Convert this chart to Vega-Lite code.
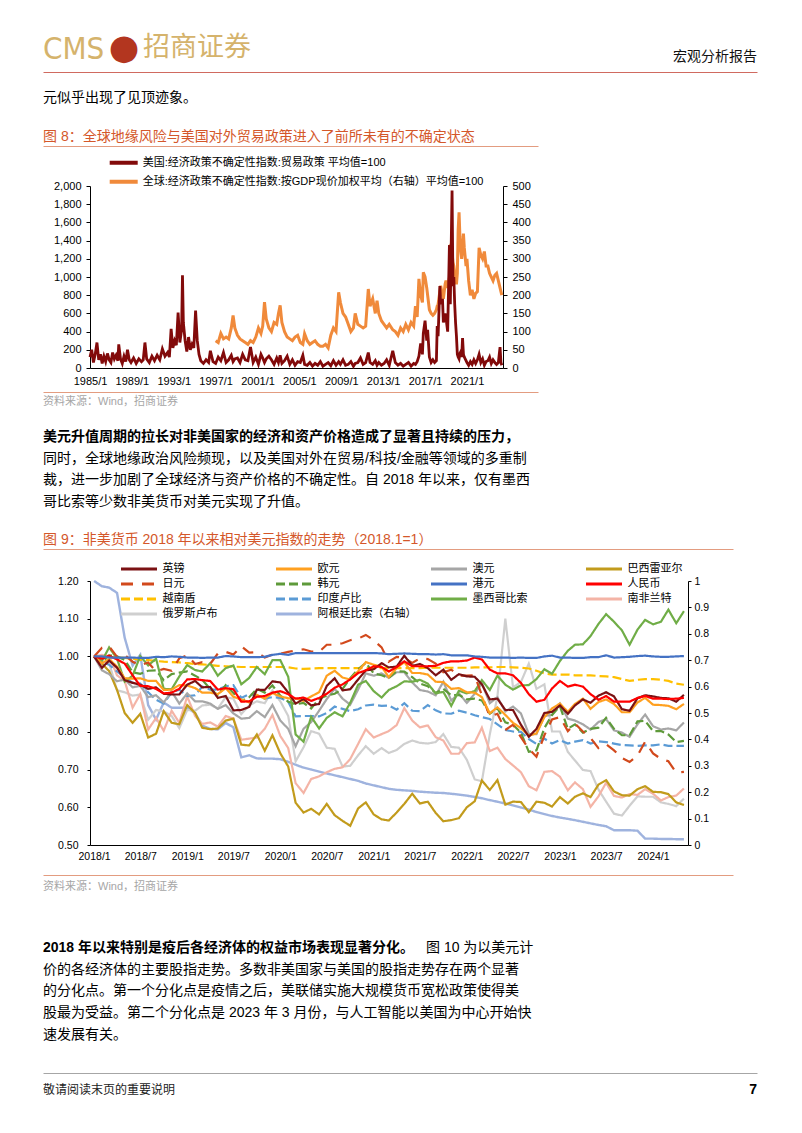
{
  "$schema": "https://vega.github.io/schema/vega-lite/v6.json",
  "background": "white",
  "padding": {"left": 43, "top": 0, "right": 0, "bottom": 0},
  "spacing": 0,
  "config": {
    "view": {"stroke": null},
    "font": "Liberation Sans, Noto Sans CJK SC",
    "text": {"font": "Liberation Sans, Noto Sans CJK SC"},
    "axis": {"labelFont": "Liberation Sans", "labelFontSize": 11, "labelColor": "#000000", "domainColor": "#000000", "tickColor": "#000000", "grid": false, "labelFlush": false, "labelOverlap": false},
    "legend": {"labelFont": "Liberation Sans, Noto Sans CJK SC", "labelColor": "#000000"}
  },
  "resolve": {"scale": {"color": "independent", "strokeDash": "independent"}, "legend": {"color": "independent", "strokeDash": "independent"}},
  "vconcat": [
    {
      "width": 667, "height": 72,
      "data": {"values": [{"logo": "CMS", "emblem": "●", "brand": "招商证券", "series": "宏观分析报告"}]},
      "encoding": {"x": {"datum": 0, "type": "quantitative", "scale": {"domain": [0, 1], "range": [-47, 667]}, "axis": {"orient": "bottom", "domain": true, "domainColor": "#d06a60", "domainWidth": 1, "ticks": false, "labels": false, "grid": false, "title": null}}},
      "layer": [
        {"mark": {"type": "text", "align": "left", "baseline": "alphabetic", "font": "Liberation Sans Narrow, DejaVu Sans Condensed, Liberation Sans", "fontSize": 31, "color": "#d5b36c", "dy": 23}, "encoding": {"text": {"field": "logo"}}},
        {"mark": {"type": "text", "align": "center", "baseline": "middle", "font": "DejaVu Sans", "fontSize": 35, "color": "#b3361f", "dx": 81, "dy": 12}, "encoding": {"text": {"field": "emblem"}}},
        {"mark": {"type": "text", "align": "left", "baseline": "middle", "font": "Noto Sans CJK SC", "fontSize": 27, "color": "#d5b36c", "dx": 100, "dy": 12}, "encoding": {"text": {"field": "brand"}}},
        {"mark": {"type": "text", "align": "right", "baseline": "middle", "fontSize": 14, "color": "#111111", "dy": 21}, "encoding": {"x": {"datum": 1, "type": "quantitative"}, "text": {"field": "series"}}}
      ]
    },
    {
      "width": 667, "height": 51,
      "data": {"values": [{"line": 0, "text": "元似乎出现了见顶迹象。"}]},
      "mark": {"type": "text", "align": "left", "baseline": "middle", "fontSize": 14, "color": "#000000"},
      "encoding": {
        "x": {"datum": 0, "type": "quantitative", "scale": {"domain": [0, 1], "range": [-47, 667]}, "axis": null},
        "y": {"field": "line", "type": "ordinal", "scale": {"type": "point", "padding": 0.5}, "axis": null},
        "text": {"field": "text"}
      }
    },
    {
      "width": 448, "height": 23,
      "data": {"values": [{"title": "图 8：全球地缘风险与美国对外贸易政策进入了前所未有的不确定状态"}]},
      "mark": {"type": "text", "align": "left", "baseline": "middle", "fontSize": 14, "color": "#d4572a", "dy": 2},
      "encoding": {
        "x": {"datum": 0, "type": "quantitative", "scale": {"domain": [0, 1], "range": [-47, 448]}, "axis": {"orient": "bottom", "domain": true, "domainColor": "#e39c80", "ticks": false, "labels": false, "grid": false, "title": null}},
        "text": {"field": "title"}
      }
    },
    {
      "width": 413, "height": 182,
      "data": {"values": [
        {"d":"1985-01","us":120},{"d":"1985-03","us":200},{"d":"1985-05","us":60},{"d":"1985-07","us":150},{"d":"1985-09","us":280},{"d":"1985-11","us":90},
        {"d":"1986-01","us":150},{"d":"1986-03","us":50},{"d":"1986-05","us":130},{"d":"1986-07","us":70},{"d":"1986-09","us":160},{"d":"1986-11","us":90},
        {"d":"1987-01","us":60},{"d":"1987-03","us":170},{"d":"1987-05","us":100},{"d":"1987-07","us":140},{"d":"1987-09","us":80},{"d":"1987-10","us":260},{"d":"1987-12","us":100},
        {"d":"1988-02","us":50},{"d":"1988-04","us":130},{"d":"1988-06","us":70},{"d":"1988-08","us":200},{"d":"1988-10","us":90},{"d":"1988-12","us":60},
        {"d":"1989-03","us":110},{"d":"1989-06","us":50},{"d":"1989-09","us":100},{"d":"1989-12","us":70},
        {"d":"1990-02","us":90},{"d":"1990-04","us":280},{"d":"1990-06","us":100},{"d":"1990-09","us":60},{"d":"1990-12","us":130},
        {"d":"1991-03","us":80},{"d":"1991-06","us":140},{"d":"1991-09","us":90},{"d":"1991-12","us":210},
        {"d":"1992-03","us":130},{"d":"1992-06","us":170},{"d":"1992-08","us":120},{"d":"1992-10","us":430},{"d":"1992-12","us":220},
        {"d":"1993-02","us":300},{"d":"1993-04","us":250},{"d":"1993-06","us":610},{"d":"1993-08","us":280},{"d":"1993-10","us":420},{"d":"1993-11","us":1020},{"d":"1993-12","us":500},
        {"d":"1994-02","us":300},{"d":"1994-04","us":180},{"d":"1994-06","us":340},{"d":"1994-08","us":200},{"d":"1994-10","us":260},{"d":"1994-12","us":220},
        {"d":"1995-02","us":630},{"d":"1995-04","us":300},{"d":"1995-06","us":150},{"d":"1995-08","us":80},{"d":"1995-11","us":50},
        {"d":"1996-02","us":90},{"d":"1996-05","us":60},{"d":"1996-07","us":190},{"d":"1996-10","us":70},
        {"d":"1997-01","us":50,"gl":75},{"d":"1997-04","us":120,"gl":70},{"d":"1997-07","us":80,"gl":95},{"d":"1997-10","us":170,"gl":80},
        {"d":"1998-01","us":60,"gl":85},{"d":"1998-04","us":90,"gl":80},{"d":"1998-07","us":140,"gl":110},{"d":"1998-09","us":70,"gl":144},{"d":"1998-11","us":100,"gl":110},
        {"d":"1999-02","us":110,"gl":90},{"d":"1999-05","us":60,"gl":80},{"d":"1999-08","us":150,"gl":75},{"d":"1999-11","us":90,"gl":70},
        {"d":"2000-02","us":80,"gl":65},{"d":"2000-05","us":230,"gl":75},{"d":"2000-08","us":60,"gl":70},{"d":"2000-11","us":120,"gl":85},
        {"d":"2001-02","us":40,"gl":110},{"d":"2001-05","us":150,"gl":95},{"d":"2001-07","us":110,"gl":115},{"d":"2001-09","us":60,"gl":181},{"d":"2001-11","us":100,"gl":135},
        {"d":"2002-02","us":130,"gl":110},{"d":"2002-05","us":90,"gl":100},{"d":"2002-08","us":40,"gl":125},{"d":"2002-11","us":110,"gl":120},
        {"d":"2003-01","us":60,"gl":150},{"d":"2003-03","us":140,"gl":172},{"d":"2003-05","us":50,"gl":125},{"d":"2003-08","us":80,"gl":100},{"d":"2003-11","us":130,"gl":85},
        {"d":"2004-02","us":40,"gl":80},{"d":"2004-05","us":90,"gl":75},{"d":"2004-08","us":30,"gl":85},{"d":"2004-11","us":70,"gl":90},
        {"d":"2005-02","us":60,"gl":70},{"d":"2005-05","us":140,"gl":65},{"d":"2005-07","us":40,"gl":94},{"d":"2005-10","us":30,"gl":75},
        {"d":"2006-01","us":60,"gl":65},{"d":"2006-04","us":20,"gl":70},{"d":"2006-07","us":50,"gl":75},{"d":"2006-10","us":30,"gl":65},
        {"d":"2007-01","us":70,"gl":60},{"d":"2007-04","us":20,"gl":60},{"d":"2007-07","us":40,"gl":65},{"d":"2007-10","us":60,"gl":55},
        {"d":"2008-01","us":25,"gl":90},{"d":"2008-04","us":80,"gl":110},{"d":"2008-07","us":30,"gl":100},{"d":"2008-10","us":70,"gl":208},{"d":"2008-12","us":40,"gl":180},
        {"d":"2009-03","us":90,"gl":150},{"d":"2009-06","us":30,"gl":140},{"d":"2009-09","us":40,"gl":120},{"d":"2009-12","us":70,"gl":100},
        {"d":"2010-03","us":20,"gl":110},{"d":"2010-05","us":50,"gl":150},{"d":"2010-08","us":60,"gl":120},{"d":"2010-11","us":110,"gl":115},
        {"d":"2011-02","us":40,"gl":110},{"d":"2011-05","us":60,"gl":115},{"d":"2011-08","us":170,"gl":217},{"d":"2011-10","us":60,"gl":170},
        {"d":"2012-01","us":40,"gl":190},{"d":"2012-04","us":80,"gl":150},{"d":"2012-06","us":30,"gl":185},{"d":"2012-08","us":60,"gl":150},{"d":"2012-11","us":30,"gl":130},
        {"d":"2013-02","us":50,"gl":120},{"d":"2013-05","us":90,"gl":110},{"d":"2013-08","us":30,"gl":120},{"d":"2013-12","us":190,"gl":105},
        {"d":"2014-03","us":60,"gl":100},{"d":"2014-06","us":30,"gl":90},{"d":"2014-09","us":50,"gl":110},{"d":"2014-12","us":20,"gl":100},
        {"d":"2015-03","us":40,"gl":120},{"d":"2015-06","us":60,"gl":105},{"d":"2015-09","us":20,"gl":125},{"d":"2015-12","us":50,"gl":115},
        {"d":"2016-02","us":40,"gl":170},{"d":"2016-04","us":70,"gl":140},{"d":"2016-06","us":130,"gl":245},{"d":"2016-08","us":270,"gl":200},{"d":"2016-10","us":150,"gl":180},{"d":"2016-11","us":380,"gl":263},
        {"d":"2017-01","us":520,"gl":250},{"d":"2017-03","us":300,"gl":220},{"d":"2017-04","us":420,"gl":200},{"d":"2017-06","us":120,"gl":160},{"d":"2017-08","us":60,"gl":150},{"d":"2017-10","us":90,"gl":145},{"d":"2017-12","us":60,"gl":150},
        {"d":"2018-02","us":80,"gl":160},{"d":"2018-03","us":460,"gl":170},{"d":"2018-04","us":350,"gl":175},{"d":"2018-06","us":900,"gl":210},{"d":"2018-07","us":700,"gl":226},{"d":"2018-09","us":760,"gl":200},{"d":"2018-10","us":500,"gl":190},{"d":"2018-12","us":600,"gl":230},
        {"d":"2019-01","us":550,"gl":240},{"d":"2019-03","us":400,"gl":220},{"d":"2019-05","us":1350,"gl":250},{"d":"2019-06","us":700,"gl":327},{"d":"2019-08","us":1950,"gl":318},{"d":"2019-09","us":900,"gl":290},{"d":"2019-10","us":1000,"gl":280},{"d":"2019-11","us":700,"gl":260},{"d":"2019-12","us":500,"gl":250},
        {"d":"2020-01","us":350,"gl":230},{"d":"2020-02","us":150,"gl":260},{"d":"2020-03","us":120,"gl":380},{"d":"2020-04","us":100,"gl":428},{"d":"2020-05","us":160,"gl":360},{"d":"2020-06","us":180,"gl":320},{"d":"2020-07","us":120,"gl":300},{"d":"2020-08","us":330,"gl":330},{"d":"2020-09","us":150,"gl":369},{"d":"2020-10","us":120,"gl":330},{"d":"2020-12","us":80,"gl":280},
        {"d":"2021-01","us":60,"gl":300},{"d":"2021-03","us":30,"gl":240},{"d":"2021-05","us":70,"gl":200},{"d":"2021-07","us":40,"gl":215},{"d":"2021-09","us":90,"gl":190},{"d":"2021-11","us":50,"gl":205},
        {"d":"2022-01","us":90,"gl":210},{"d":"2022-03","us":150,"gl":330},{"d":"2022-05","us":60,"gl":310},{"d":"2022-07","us":100,"gl":300},{"d":"2022-09","us":30,"gl":320},{"d":"2022-11","us":70,"gl":280},
        {"d":"2023-01","us":80,"gl":280},{"d":"2023-03","us":120,"gl":260},{"d":"2023-05","us":50,"gl":250},{"d":"2023-07","us":90,"gl":240},{"d":"2023-09","us":60,"gl":255},{"d":"2023-11","us":40,"gl":260},
        {"d":"2024-01","us":60,"gl":240},{"d":"2024-03","us":230,"gl":220},{"d":"2024-04","us":60,"gl":210},{"d":"2024-05","us":30,"gl":200}
      ]},
      "encoding": {
        "x": {"field": "d", "type": "temporal",
          "scale": {"type": "utc", "domain": [{"year": 1985, "month": 1, "date": 1, "utc": true}, {"year": 2024, "month": 6, "date": 12, "utc": true}]},
          "axis": {"title": null, "format": "%Y/%-m", "ticks": false, "labelPadding": 7, "minExtent": 23.5,
            "values": [{"year":1985,"month":1,"date":1,"utc":true},{"year":1989,"month":1,"date":1,"utc":true},{"year":1993,"month":1,"date":1,"utc":true},{"year":1997,"month":1,"date":1,"utc":true},{"year":2001,"month":1,"date":1,"utc":true},{"year":2005,"month":1,"date":1,"utc":true},{"year":2009,"month":1,"date":1,"utc":true},{"year":2013,"month":1,"date":1,"utc":true},{"year":2017,"month":1,"date":1,"utc":true},{"year":2021,"month":1,"date":1,"utc":true}]}}
      },
      "layer": [
        {"mark": {"type": "line", "strokeWidth": 3},
         "encoding": {
           "y": {"field": "gl", "type": "quantitative", "scale": {"domain": [0, 500], "nice": false}, "axis": {"title": null, "orient": "right", "values": [0,50,100,150,200,250,300,350,400,450,500], "tickSize": 4, "labelPadding": 5}},
           "color": {"datum": "全球:经济政策不确定性指数:按GDP现价加权平均（右轴）平均值=100", "type": "nominal"}
         }},
        {"mark": {"type": "line", "strokeWidth": 2.8},
         "encoding": {
           "y": {"field": "us", "type": "quantitative", "scale": {"domain": [0, 2000], "nice": false}, "axis": {"title": null, "orient": "left", "values": [0,200,400,600,800,1000,1200,1400,1600,1800,2000], "format": ",.0f", "tickSize": 4, "labelPadding": 5, "minExtent": 47}},
           "color": {"datum": "美国:经济政策不确定性指数:贸易政策 平均值=100", "type": "nominal",
             "scale": {"domain": ["美国:经济政策不确定性指数:贸易政策 平均值=100", "全球:经济政策不确定性指数:按GDP现价加权平均（右轴）平均值=100"], "range": ["#820a0a", "#f08a3b"]},
             "legend": {"title": null, "orient": "none", "legendX": 7, "legendY": -39.5, "padding": 10.7, "direction": "vertical", "symbolType": "stroke", "symbolSize": 784, "symbolStrokeWidth": 4, "clipHeight": 11, "rowPadding": 7, "labelFontSize": 11, "labelOffset": 3, "labelLimit": 500}}
         }}
      ],
      "resolve": {"scale": {"y": "independent"}}
    },
    {
      "width": 448, "height": 30,
      "data": {"values": [{"src": "资料来源：Wind，招商证券"}]},
      "mark": {"type": "text", "align": "left", "baseline": "middle", "fontSize": 11, "color": "#a6a6a6", "dy": -5},
      "encoding": {
        "x": {"datum": 0, "type": "quantitative", "scale": {"domain": [0, 1], "range": [-47, 448]}, "axis": {"orient": "top", "domain": true, "domainColor": "#e39c80", "ticks": false, "labels": false, "grid": false, "title": null}},
        "text": {"field": "src"}
      }
    },
    {
      "width": 667, "height": 109,
      "data": {"values": [
        {"line": 0, "part": "lead", "text": "美元升值周期的拉长对非美国家的经济和资产价格造成了显著且持续的压力，"},
        {"line": 1, "part": "body", "text": "同时，全球地缘政治风险频现，以及美国对外在贸易/科技/金融等领域的多重制"},
        {"line": 2, "part": "body", "text": "裁，进一步加剧了全球经济与资产价格的不确定性。自 2018 年以来，仅有墨西"},
        {"line": 3, "part": "body", "text": "哥比索等少数非美货币对美元实现了升值。"}
      ]},
      "encoding": {
        "x": {"datum": 0, "type": "quantitative", "scale": {"domain": [0, 1], "range": [-47, 667]}, "axis": null},
        "y": {"field": "line", "type": "quantitative", "scale": {"domain": [-0.691, 4.332], "reverse": true, "nice": false, "zero": false}, "axis": null},
        "text": {"field": "text"}
      },
      "layer": [
        {"transform": [{"filter": "datum.part === 'lead'"}], "mark": {"type": "text", "align": "left", "baseline": "middle", "fontSize": 14, "fontWeight": "bold", "color": "#000000"}},
        {"transform": [{"filter": "datum.part === 'body'"}], "mark": {"type": "text", "align": "left", "baseline": "middle", "fontSize": 14, "color": "#000000"}}
      ]
    },
    {
      "width": 643, "height": 18,
      "data": {"values": [{"title": "图 9：非美货币 2018 年以来相对美元指数的走势（2018.1=1）"}]},
      "mark": {"type": "text", "align": "left", "baseline": "middle", "fontSize": 14, "color": "#d4572a", "dy": 0},
      "encoding": {
        "x": {"datum": 0, "type": "quantitative", "scale": {"domain": [0, 1], "range": [-47, 643]}, "axis": {"orient": "bottom", "domain": true, "domainColor": "#e39c80", "ticks": false, "labels": false, "grid": false, "title": null}},
        "text": {"field": "title"}
      }
    },
    {
      "width": 598, "height": 264,
      "data": {"values": [
        {"d":"2018-01","gbp":1,"eur":1,"aud":1,"brl":1,"jpy":1,"krw":1,"hkd":1,"cny":1,"vnd":1,"inr":1,"mxn":1,"zar":1,"rub":1,"ars":1},
        {"d":"2018-02","gbp":0.970,"eur":0.982,"aud":0.963,"brl":0.981,"jpy":1.023,"krw":0.986,"hkd":1.000,"cny":0.994,"vnd":0.999,"inr":0.985,"mxn":0.988,"zar":1.004,"rub":1.002,"ars":0.980},
        {"d":"2018-03","gbp":0.989,"eur":0.993,"aud":0.953,"brl":0.961,"jpy":1.027,"krw":1.003,"hkd":0.997,"cny":1.002,"vnd":0.998,"inr":0.978,"mxn":1.024,"zar":1.001,"rub":0.983,"ars":0.975},
        {"d":"2018-04","gbp":0.970,"eur":0.973,"aud":0.934,"brl":0.911,"jpy":0.999,"krw":1.000,"hkd":0.997,"cny":0.992,"vnd":0.997,"inr":0.960,"mxn":0.994,"zar":0.950,"rub":0.910,"ars":0.955},
        {"d":"2018-05","gbp":0.937,"eur":0.942,"aud":0.939,"brl":0.850,"jpy":1.004,"krw":0.991,"hkd":0.997,"cny":0.981,"vnd":0.996,"inr":0.945,"mxn":0.933,"zar":0.935,"rub":0.905,"ars":0.785},
        {"d":"2018-06","gbp":0.930,"eur":0.941,"aud":0.918,"brl":0.824,"jpy":0.986,"krw":0.958,"hkd":0.997,"cny":0.950,"vnd":0.994,"inr":0.930,"mxn":0.949,"zar":0.864,"rub":0.896,"ars":0.680},
        {"d":"2018-07","gbp":0.925,"eur":0.942,"aud":0.922,"brl":0.848,"jpy":0.976,"krw":0.954,"hkd":0.996,"cny":0.922,"vnd":0.991,"inr":0.928,"mxn":1.001,"zar":0.900,"rub":0.899,"ars":0.720},
        {"d":"2018-08","gbp":0.914,"eur":0.935,"aud":0.892,"brl":0.785,"jpy":0.984,"krw":0.962,"hkd":0.996,"cny":0.921,"vnd":0.990,"inr":0.905,"mxn":0.976,"zar":0.806,"rub":0.832,"ars":0.530},
        {"d":"2018-09","gbp":0.918,"eur":0.935,"aud":0.897,"brl":0.795,"jpy":0.960,"krw":0.963,"hkd":0.999,"cny":0.914,"vnd":0.988,"inr":0.885,"mxn":0.994,"zar":0.837,"rub":0.858,"ars":0.475},
        {"d":"2018-10","gbp":0.901,"eur":0.911,"aud":0.878,"brl":0.855,"jpy":0.967,"krw":0.937,"hkd":0.998,"cny":0.902,"vnd":0.986,"inr":0.875,"mxn":0.914,"zar":0.803,"rub":0.854,"ars":0.540},
        {"d":"2018-11","gbp":0.899,"eur":0.912,"aud":0.907,"brl":0.824,"jpy":0.962,"krw":0.953,"hkd":1.000,"cny":0.904,"vnd":0.985,"inr":0.905,"mxn":0.913,"zar":0.856,"rub":0.842,"ars":0.520},
        {"d":"2018-12","gbp":0.899,"eur":0.924,"aud":0.875,"brl":0.820,"jpy":0.995,"krw":0.957,"hkd":0.999,"cny":0.914,"vnd":0.984,"inr":0.912,"mxn":0.947,"zar":0.824,"rub":0.810,"ars":0.520},
        {"d":"2019-01","gbp":0.925,"eur":0.923,"aud":0.902,"brl":0.871,"jpy":1.003,"krw":0.960,"hkd":0.997,"cny":0.939,"vnd":0.982,"inr":0.895,"mxn":0.977,"zar":0.894,"rub":0.858,"ars":0.520},
        {"d":"2019-02","gbp":0.935,"eur":0.916,"aud":0.881,"brl":0.850,"jpy":0.980,"krw":0.949,"hkd":0.997,"cny":0.940,"vnd":0.980,"inr":0.897,"mxn":0.964,"zar":0.842,"rub":0.856,"ars":0.500},
        {"d":"2019-03","gbp":0.918,"eur":0.904,"aud":0.881,"brl":0.811,"jpy":0.985,"krw":0.938,"hkd":0.996,"cny":0.937,"vnd":0.979,"inr":0.920,"mxn":0.960,"zar":0.821,"rub":0.870,"ars":0.452},
        {"d":"2019-04","gbp":0.919,"eur":0.904,"aud":0.875,"brl":0.807,"jpy":0.980,"krw":0.914,"hkd":0.997,"cny":0.935,"vnd":0.977,"inr":0.912,"mxn":0.982,"zar":0.825,"rub":0.872,"ars":0.440},
        {"d":"2019-05","gbp":0.890,"eur":0.900,"aud":0.861,"brl":0.809,"jpy":1.008,"krw":0.897,"hkd":0.997,"cny":0.912,"vnd":0.975,"inr":0.912,"mxn":0.949,"zar":0.814,"rub":0.862,"ars":0.438},
        {"d":"2019-06","gbp":0.895,"eur":0.916,"aud":0.871,"brl":0.830,"jpy":1.012,"krw":0.924,"hkd":1.001,"cny":0.916,"vnd":0.974,"inr":0.921,"mxn":0.969,"zar":0.842,"rub":0.892,"ars":0.462},
        {"d":"2019-07","gbp":0.857,"eur":0.893,"aud":0.849,"brl":0.835,"jpy":1.005,"krw":0.903,"hkd":1.000,"cny":0.913,"vnd":0.973,"inr":0.924,"mxn":0.976,"zar":0.835,"rub":0.888,"ars":0.446},
        {"d":"2019-08","gbp":0.858,"eur":0.886,"aud":0.835,"brl":0.766,"jpy":1.027,"krw":0.882,"hkd":0.998,"cny":0.880,"vnd":0.972,"inr":0.890,"mxn":0.926,"zar":0.779,"rub":0.847,"ars":0.332},
        {"d":"2019-09","gbp":0.866,"eur":0.878,"aud":0.837,"brl":0.764,"jpy":1.010,"krw":0.892,"hkd":0.998,"cny":0.881,"vnd":0.972,"inr":0.900,"mxn":0.943,"zar":0.782,"rub":0.870,"ars":0.340},
        {"d":"2019-10","gbp":0.912,"eur":0.898,"aud":0.855,"brl":0.793,"jpy":1.011,"krw":0.914,"hkd":0.998,"cny":0.893,"vnd":0.972,"inr":0.897,"mxn":0.972,"zar":0.785,"rub":0.881,"ars":0.328},
        {"d":"2019-11","gbp":0.911,"eur":0.888,"aud":0.839,"brl":0.750,"jpy":0.997,"krw":0.904,"hkd":0.999,"cny":0.895,"vnd":0.972,"inr":0.888,"mxn":0.953,"zar":0.808,"rub":0.876,"ars":0.327},
        {"d":"2019-12","gbp":0.934,"eur":0.903,"aud":0.871,"brl":0.791,"jpy":1.005,"krw":0.923,"hkd":1.004,"cny":0.904,"vnd":0.972,"inr":0.892,"mxn":0.990,"zar":0.845,"rub":0.910,"ars":0.327},
        {"d":"2020-01","gbp":0.931,"eur":0.894,"aud":0.830,"brl":0.743,"jpy":1.007,"krw":0.896,"hkd":1.007,"cny":0.908,"vnd":0.972,"inr":0.890,"mxn":0.990,"zar":0.789,"rub":0.881,"ars":0.325},
        {"d":"2020-02","gbp":0.904,"eur":0.889,"aud":0.808,"brl":0.708,"jpy":1.012,"krw":0.880,"hkd":1.004,"cny":0.900,"vnd":0.971,"inr":0.880,"mxn":0.946,"zar":0.757,"rub":0.842,"ars":0.315},
        {"d":"2020-03","gbp":0.875,"eur":0.889,"aud":0.762,"brl":0.612,"jpy":1.016,"krw":0.873,"hkd":1.009,"cny":0.888,"vnd":0.968,"inr":0.841,"mxn":0.793,"zar":0.664,"rub":0.722,"ars":0.304},
        {"d":"2020-04","gbp":0.887,"eur":0.882,"aud":0.808,"brl":0.586,"jpy":1.019,"krw":0.877,"hkd":1.009,"cny":0.891,"vnd":0.967,"inr":0.842,"mxn":0.774,"zar":0.638,"rub":0.759,"ars":0.293},
        {"d":"2020-05","gbp":0.870,"eur":0.894,"aud":0.826,"brl":0.596,"jpy":1.013,"krw":0.862,"hkd":1.009,"cny":0.882,"vnd":0.968,"inr":0.842,"mxn":0.840,"zar":0.675,"rub":0.802,"ars":0.286},
        {"d":"2020-06","gbp":0.874,"eur":0.905,"aud":0.856,"brl":0.581,"jpy":1.012,"krw":0.888,"hkd":1.009,"cny":0.890,"vnd":0.969,"inr":0.841,"mxn":0.809,"zar":0.682,"rub":0.795,"ars":0.278},
        {"d":"2020-07","gbp":0.922,"eur":0.949,"aud":0.887,"brl":0.609,"jpy":1.031,"krw":0.896,"hkd":1.009,"cny":0.901,"vnd":0.969,"inr":0.850,"mxn":0.837,"zar":0.693,"rub":0.758,"ars":0.271},
        {"d":"2020-08","gbp":0.942,"eur":0.962,"aud":0.914,"brl":0.579,"jpy":1.031,"krw":0.901,"hkd":1.009,"cny":0.917,"vnd":0.969,"inr":0.867,"mxn":0.852,"zar":0.702,"rub":0.755,"ars":0.264},
        {"d":"2020-09","gbp":0.910,"eur":0.944,"aud":0.888,"brl":0.564,"jpy":1.035,"krw":0.914,"hkd":1.009,"cny":0.926,"vnd":0.969,"inr":0.861,"mxn":0.841,"zar":0.706,"rub":0.708,"ars":0.257},
        {"d":"2020-10","gbp":0.913,"eur":0.939,"aud":0.872,"brl":0.551,"jpy":1.043,"krw":0.942,"hkd":1.009,"cny":0.939,"vnd":0.969,"inr":0.855,"mxn":0.877,"zar":0.728,"rub":0.710,"ars":0.250},
        {"d":"2020-11","gbp":0.939,"eur":0.961,"aud":0.912,"brl":0.597,"jpy":1.047,"krw":0.966,"hkd":1.009,"cny":0.956,"vnd":0.969,"inr":0.860,"mxn":0.925,"zar":0.768,"rub":0.738,"ars":0.243},
        {"d":"2020-12","gbp":0.963,"eur":0.985,"aud":0.955,"brl":0.613,"jpy":1.057,"krw":0.983,"hkd":1.009,"cny":0.963,"vnd":0.969,"inr":0.870,"mxn":0.935,"zar":0.807,"rub":0.762,"ars":0.233},
        {"d":"2021-01","gbp":0.966,"eur":0.978,"aud":0.949,"brl":0.581,"jpy":1.043,"krw":0.955,"hkd":1.009,"cny":0.974,"vnd":0.969,"inr":0.872,"mxn":0.908,"zar":0.785,"rub":0.742,"ars":0.226},
        {"d":"2021-02","gbp":0.982,"eur":0.973,"aud":0.955,"brl":0.568,"jpy":1.024,"krw":0.950,"hkd":1.008,"cny":0.972,"vnd":0.969,"inr":0.869,"mxn":0.891,"zar":0.794,"rub":0.757,"ars":0.219},
        {"d":"2021-03","gbp":0.971,"eur":0.945,"aud":0.943,"brl":0.565,"jpy":0.986,"krw":0.943,"hkd":1.006,"cny":0.960,"vnd":0.969,"inr":0.870,"mxn":0.911,"zar":0.802,"rub":0.744,"ars":0.213},
        {"d":"2021-04","gbp":0.973,"eur":0.969,"aud":0.958,"brl":0.586,"jpy":0.999,"krw":0.961,"hkd":1.007,"cny":0.972,"vnd":0.969,"inr":0.859,"mxn":0.921,"zar":0.818,"rub":0.752,"ars":0.209},
        {"d":"2021-05","gbp":1.002,"eur":0.985,"aud":0.958,"brl":0.609,"jpy":0.996,"krw":0.960,"hkd":1.008,"cny":0.987,"vnd":0.969,"inr":0.876,"mxn":0.934,"zar":0.863,"rub":0.768,"ars":0.207},
        {"d":"2021-06","gbp":0.975,"eur":0.956,"aud":0.931,"brl":0.636,"jpy":0.983,"krw":0.945,"hkd":1.007,"cny":0.974,"vnd":0.969,"inr":0.856,"mxn":0.933,"zar":0.830,"rub":0.777,"ars":0.205},
        {"d":"2021-07","gbp":0.980,"eur":0.956,"aud":0.911,"brl":0.610,"jpy":0.995,"krw":0.928,"hkd":1.006,"cny":0.974,"vnd":0.969,"inr":0.855,"mxn":0.938,"zar":0.812,"rub":0.771,"ars":0.202},
        {"d":"2021-08","gbp":0.969,"eur":0.952,"aud":0.907,"brl":0.615,"jpy":0.993,"krw":0.921,"hkd":1.006,"cny":0.974,"vnd":0.970,"inr":0.871,"mxn":0.928,"zar":0.817,"rub":0.769,"ars":0.200},
        {"d":"2021-09","gbp":0.950,"eur":0.933,"aud":0.897,"brl":0.585,"jpy":0.981,"krw":0.903,"hkd":1.005,"cny":0.975,"vnd":0.970,"inr":0.857,"mxn":0.902,"zar":0.786,"rub":0.773,"ars":0.198},
        {"d":"2021-10","gbp":0.965,"eur":0.932,"aud":0.933,"brl":0.563,"jpy":0.958,"krw":0.914,"hkd":1.006,"cny":0.983,"vnd":0.970,"inr":0.849,"mxn":0.906,"zar":0.777,"rub":0.794,"ars":0.197},
        {"d":"2021-11","gbp":0.938,"eur":0.914,"aud":0.883,"brl":0.566,"jpy":0.965,"krw":0.897,"hkd":1.003,"cny":0.987,"vnd":0.970,"inr":0.848,"mxn":0.869,"zar":0.742,"rub":0.760,"ars":0.194},
        {"d":"2021-12","gbp":0.953,"eur":0.916,"aud":0.902,"brl":0.571,"jpy":0.949,"krw":0.898,"hkd":1.003,"cny":0.987,"vnd":0.970,"inr":0.856,"mxn":0.909,"zar":0.742,"rub":0.758,"ars":0.191},
        {"d":"2022-01","gbp":0.947,"eur":0.905,"aud":0.877,"brl":0.600,"jpy":0.949,"krw":0.886,"hkd":1.003,"cny":0.989,"vnd":0.970,"inr":0.851,"mxn":0.902,"zar":0.770,"rub":0.726,"ars":0.187},
        {"d":"2022-02","gbp":0.946,"eur":0.904,"aud":0.901,"brl":0.616,"jpy":0.950,"krw":0.888,"hkd":1.000,"cny":0.997,"vnd":0.971,"inr":0.844,"mxn":0.908,"zar":0.772,"rub":0.674,"ars":0.182},
        {"d":"2022-03","gbp":0.926,"eur":0.892,"aud":0.929,"brl":0.671,"jpy":0.897,"krw":0.883,"hkd":0.999,"cny":0.992,"vnd":0.971,"inr":0.839,"mxn":0.937,"zar":0.811,"rub":0.669,"ars":0.177},
        {"d":"2022-04","gbp":0.886,"eur":0.849,"aud":0.876,"brl":0.646,"jpy":0.841,"krw":0.848,"hkd":0.997,"cny":0.965,"vnd":0.971,"inr":0.834,"mxn":0.911,"zar":0.749,"rub":0.793,"ars":0.170},
        {"d":"2022-05","gbp":0.888,"eur":0.865,"aud":0.892,"brl":0.672,"jpy":0.848,"krw":0.863,"hkd":0.997,"cny":0.955,"vnd":0.972,"inr":0.820,"mxn":0.949,"zar":0.758,"rub":0.894,"ars":0.164},
        {"d":"2022-06","gbp":0.858,"eur":0.845,"aud":0.854,"brl":0.607,"jpy":0.805,"krw":0.825,"hkd":0.997,"cny":0.955,"vnd":0.972,"inr":0.805,"mxn":0.925,"zar":0.728,"rub":1.100,"ars":0.157},
        {"d":"2022-07","gbp":0.858,"eur":0.824,"aud":0.867,"brl":0.615,"jpy":0.819,"krw":0.819,"hkd":0.996,"cny":0.950,"vnd":0.971,"inr":0.801,"mxn":0.912,"zar":0.711,"rub":0.918,"ars":0.150},
        {"d":"2022-08","gbp":0.819,"eur":0.810,"aud":0.849,"brl":0.614,"jpy":0.786,"krw":0.798,"hkd":0.997,"cny":0.930,"vnd":0.970,"inr":0.800,"mxn":0.923,"zar":0.693,"rub":0.932,"ars":0.142},
        {"d":"2022-09","gbp":0.787,"eur":0.790,"aud":0.794,"brl":0.587,"jpy":0.755,"krw":0.747,"hkd":0.996,"cny":0.900,"vnd":0.968,"inr":0.781,"mxn":0.924,"zar":0.656,"rub":0.981,"ars":0.134},
        {"d":"2022-10","gbp":0.808,"eur":0.796,"aud":0.794,"brl":0.615,"jpy":0.734,"krw":0.751,"hkd":0.996,"cny":0.880,"vnd":0.962,"inr":0.768,"mxn":0.940,"zar":0.645,"rub":0.914,"ars":0.125},
        {"d":"2022-11","gbp":0.850,"eur":0.839,"aud":0.842,"brl":0.612,"jpy":0.791,"krw":0.810,"hkd":1.000,"cny":0.885,"vnd":0.955,"inr":0.782,"mxn":0.966,"zar":0.694,"rub":0.926,"ars":0.117},
        {"d":"2022-12","gbp":0.853,"eur":0.862,"aud":0.845,"brl":0.602,"jpy":0.833,"krw":0.845,"hkd":1.002,"cny":0.915,"vnd":0.952,"inr":0.769,"mxn":0.954,"zar":0.696,"rub":0.801,"ars":0.110},
        {"d":"2023-01","gbp":0.870,"eur":0.875,"aud":0.875,"brl":0.627,"jpy":0.839,"krw":0.868,"hkd":0.997,"cny":0.935,"vnd":0.952,"inr":0.778,"mxn":0.988,"zar":0.681,"rub":0.801,"ars":0.104},
        {"d":"2023-02","gbp":0.848,"eur":0.853,"aud":0.835,"brl":0.610,"jpy":0.802,"krw":0.808,"hkd":0.997,"cny":0.920,"vnd":0.952,"inr":0.769,"mxn":1.015,"zar":0.645,"rub":0.747,"ars":0.099},
        {"d":"2023-03","gbp":0.870,"eur":0.874,"aud":0.830,"brl":0.628,"jpy":0.822,"krw":0.820,"hkd":0.996,"cny":0.925,"vnd":0.950,"inr":0.774,"mxn":1.031,"zar":0.666,"rub":0.724,"ars":0.094},
        {"d":"2023-04","gbp":0.886,"eur":0.888,"aud":0.820,"brl":0.637,"jpy":0.801,"krw":0.798,"hkd":0.996,"cny":0.920,"vnd":0.950,"inr":0.778,"mxn":1.032,"zar":0.648,"rub":0.699,"ars":0.088},
        {"d":"2023-05","gbp":0.877,"eur":0.861,"aud":0.806,"brl":0.627,"jpy":0.784,"krw":0.808,"hkd":0.998,"cny":0.900,"vnd":0.950,"inr":0.769,"mxn":1.054,"zar":0.601,"rub":0.696,"ars":0.082},
        {"d":"2023-06","gbp":0.896,"eur":0.879,"aud":0.826,"brl":0.660,"jpy":0.757,"krw":0.811,"hkd":0.998,"cny":0.885,"vnd":0.948,"inr":0.775,"mxn":1.086,"zar":0.629,"rub":0.647,"ars":0.076},
        {"d":"2023-07","gbp":0.905,"eur":0.886,"aud":0.834,"brl":0.672,"jpy":0.767,"krw":0.837,"hkd":1.003,"cny":0.895,"vnd":0.947,"inr":0.773,"mxn":1.112,"zar":0.665,"rub":0.615,"ars":0.071},
        {"d":"2023-08","gbp":0.894,"eur":0.874,"aud":0.804,"brl":0.642,"jpy":0.751,"krw":0.808,"hkd":0.997,"cny":0.880,"vnd":0.945,"inr":0.769,"mxn":1.092,"zar":0.630,"rub":0.583,"ars":0.056},
        {"d":"2023-09","gbp":0.860,"eur":0.852,"aud":0.798,"brl":0.632,"jpy":0.731,"krw":0.791,"hkd":0.998,"cny":0.880,"vnd":0.940,"inr":0.765,"mxn":1.069,"zar":0.626,"rub":0.578,"ars":0.056},
        {"d":"2023-10","gbp":0.856,"eur":0.852,"aud":0.787,"brl":0.631,"jpy":0.720,"krw":0.791,"hkd":0.999,"cny":0.880,"vnd":0.935,"inr":0.764,"mxn":1.031,"zar":0.635,"rub":0.604,"ars":0.056},
        {"d":"2023-11","gbp":0.889,"eur":0.878,"aud":0.820,"brl":0.648,"jpy":0.737,"krw":0.828,"hkd":1.001,"cny":0.890,"vnd":0.938,"inr":0.763,"mxn":1.071,"zar":0.633,"rub":0.629,"ars":0.054},
        {"d":"2023-12","gbp":0.897,"eur":0.890,"aud":0.846,"brl":0.656,"jpy":0.774,"krw":0.829,"hkd":1.002,"cny":0.895,"vnd":0.940,"inr":0.764,"mxn":1.097,"zar":0.648,"rub":0.628,"ars":0.024},
        {"d":"2024-01","gbp":0.894,"eur":0.872,"aud":0.815,"brl":0.641,"jpy":0.743,"krw":0.802,"hkd":1.000,"cny":0.888,"vnd":0.940,"inr":0.764,"mxn":1.085,"zar":0.636,"rub":0.628,"ars":0.024},
        {"d":"2024-02","gbp":0.890,"eur":0.871,"aud":0.806,"brl":0.640,"jpy":0.728,"krw":0.802,"hkd":0.999,"cny":0.888,"vnd":0.938,"inr":0.767,"mxn":1.092,"zar":0.618,"rub":0.613,"ars":0.023},
        {"d":"2024-03","gbp":0.889,"eur":0.869,"aud":0.809,"brl":0.635,"jpy":0.722,"krw":0.793,"hkd":0.999,"cny":0.887,"vnd":0.935,"inr":0.763,"mxn":1.124,"zar":0.627,"rub":0.609,"ars":0.023},
        {"d":"2024-04","gbp":0.880,"eur":0.860,"aud":0.804,"brl":0.613,"jpy":0.692,"krw":0.773,"hkd":1.000,"cny":0.888,"vnd":0.928,"inr":0.763,"mxn":1.088,"zar":0.631,"rub":0.603,"ars":0.022},
        {"d":"2024-05","gbp":0.898,"eur":0.874,"aud":0.825,"brl":0.606,"jpy":0.694,"krw":0.776,"hkd":1.001,"cny":0.890,"vnd":0.925,"inr":0.763,"mxn":1.120,"zar":0.650,"rub":0.623,"ars":0.022}
      ]},
      "transform": [{"fold": ["ars","rub","zar","brl","inr","vnd","aud","krw","mxn","jpy","eur","gbp","cny","hkd"], "as": ["cur", "v"]}],
      "encoding": {
        "x": {"field": "d", "type": "temporal",
          "scale": {"type": "utc", "domain": [{"year": 2017, "month": 12, "date": 16, "utc": true}, {"year": 2024, "month": 5, "date": 17, "utc": true}]},
          "axis": {"title": null, "format": "%Y/%-m", "ticks": false, "labelPadding": 6, "labelFontSize": 10.5, "minExtent": 30,
            "values": [{"year":2018,"month":1,"date":1,"utc":true},{"year":2018,"month":7,"date":1,"utc":true},{"year":2019,"month":1,"date":1,"utc":true},{"year":2019,"month":7,"date":1,"utc":true},{"year":2020,"month":1,"date":1,"utc":true},{"year":2020,"month":7,"date":1,"utc":true},{"year":2021,"month":1,"date":1,"utc":true},{"year":2021,"month":7,"date":1,"utc":true},{"year":2022,"month":1,"date":1,"utc":true},{"year":2022,"month":7,"date":1,"utc":true},{"year":2023,"month":1,"date":1,"utc":true},{"year":2023,"month":7,"date":1,"utc":true},{"year":2024,"month":1,"date":1,"utc":true}]}},
        "color": {"field": "cur", "type": "nominal",
          "scale": {"domain": ["gbp","eur","aud","brl","jpy","krw","hkd","cny","vnd","inr","mxn","zar","rub","ars"],
                    "range": ["#7b1113","#ffa020","#a6a6a6","#c29b1c","#d2491c","#5e9a3a","#4472c4","#ff0000","#ffc000","#5b9bd5","#70ad47","#f4b4a6","#cfcfcf","#9fb3de"]},
          "legend": {"title": null, "orient": "none", "legendX": 15, "legendY": -32, "padding": 14.5, "columns": 4, "gridAlign": "all", "columnPadding": 13, "rowPadding": 3, "symbolType": "stroke", "symbolSize": 1296, "symbolStrokeWidth": 3, "clipHeight": 11, "labelFontSize": 11, "labelOffset": 4, "labelLimit": 300, "direction": "horizontal",
            "labelExpr": "{'gbp':'英镑','eur':'欧元','aud':'澳元','brl':'巴西雷亚尔','jpy':'日元','krw':'韩元','hkd':'港元','cny':'人民币','vnd':'越南盾','inr':'印度卢比','mxn':'墨西哥比索','zar':'南非兰特','rub':'俄罗斯卢布','ars':'阿根廷比索（右轴）'}[datum.label]"}},
        "strokeDash": {"field": "cur", "type": "nominal",
          "scale": {"domain": ["gbp","eur","aud","brl","jpy","krw","hkd","cny","vnd","inr","mxn","zar","rub","ars"],
                    "range": [[1,0],[1,0],[1,0],[1,0],[12,9],[9,4],[1,0],[1,0],[9,4],[9,4],[1,0],[1,0],[1,0],[1,0]]},
          "legend": {"title": null, "orient": "none", "legendX": 15, "legendY": -32, "padding": 14.5, "columns": 4, "gridAlign": "all", "columnPadding": 13, "rowPadding": 3, "symbolType": "stroke", "symbolSize": 1296, "symbolStrokeWidth": 3, "clipHeight": 11, "labelFontSize": 11, "labelOffset": 4, "labelLimit": 300, "direction": "horizontal",
            "labelExpr": "{'gbp':'英镑','eur':'欧元','aud':'澳元','brl':'巴西雷亚尔','jpy':'日元','krw':'韩元','hkd':'港元','cny':'人民币','vnd':'越南盾','inr':'印度卢比','mxn':'墨西哥比索','zar':'南非兰特','rub':'俄罗斯卢布','ars':'阿根廷比索（右轴）'}[datum.label]"}}
      },
      "layer": [
        {"transform": [{"filter": "datum.cur === 'ars'"}], "mark": {"type": "line", "strokeWidth": 2.4},
         "encoding": {"y": {"field": "v", "type": "quantitative", "scale": {"domain": [0, 1], "nice": false, "zero": false}, "axis": {"title": null, "orient": "right", "values": [0,0.1,0.2,0.3,0.4,0.5,0.6,0.7,0.8,0.9,1], "format": ".1~f", "tickSize": 3, "labelPadding": 3, "labelFontSize": 10.5}}}},
        {"transform": [{"filter": "datum.cur !== 'ars'"}], "mark": {"type": "line", "strokeWidth": 2.2},
         "encoding": {"y": {"field": "v", "type": "quantitative", "scale": {"domain": [0.5, 1.2], "nice": false, "zero": false}, "axis": {"title": null, "orient": "left", "values": [0.5,0.6,0.7,0.8,0.9,1.0,1.1,1.2], "format": ".2f", "tickSize": 3, "labelPadding": 9, "labelFontSize": 10.5, "minExtent": 47}}}}
      ],
      "resolve": {"scale": {"y": "independent"}}
    },
    {
      "width": 643, "height": 40,
      "data": {"values": [{"src": "资料来源：Wind，招商证券"}]},
      "mark": {"type": "text", "align": "left", "baseline": "middle", "fontSize": 11, "color": "#a6a6a6", "dy": -8},
      "encoding": {
        "x": {"datum": 0, "type": "quantitative", "scale": {"domain": [0, 1], "range": [-47, 643]}, "axis": {"orient": "top", "domain": true, "domainColor": "#e39c80", "ticks": false, "labels": false, "grid": false, "title": null}},
        "text": {"field": "src"}
      }
    },
    {
      "width": 667, "height": 158,
      "data": {"values": [
        {"line": 0, "part": "lead", "text": "2018 年以来特别是疫后各经济体的权益市场表现显著分化。"},
        {"line": 0, "part": "cont", "text": "图 10 为以美元计"},
        {"line": 1, "part": "body", "text": "价的各经济体的主要股指走势。多数非美国家与美国的股指走势存在两个显著"},
        {"line": 2, "part": "body", "text": "的分化点。第一个分化点是疫情之后，美联储实施大规模货币宽松政策使得美"},
        {"line": 3, "part": "body", "text": "股最为受益。第二个分化点是 2023 年 3 月份，与人工智能以美国为中心开始快"},
        {"line": 4, "part": "body", "text": "速发展有关。"}
      ]},
      "encoding": {
        "x": {"datum": 0, "type": "quantitative", "scale": {"domain": [0, 1], "range": [-47, 667]}, "axis": null},
        "y": {"field": "line", "type": "quantitative", "scale": {"domain": [-1.517, 5.747], "reverse": true, "nice": false, "zero": false}, "axis": null},
        "text": {"field": "text"}
      },
      "layer": [
        {"transform": [{"filter": "datum.part === 'lead'"}], "mark": {"type": "text", "align": "left", "baseline": "middle", "fontSize": 14, "fontWeight": "bold", "color": "#000000"}},
        {"transform": [{"filter": "datum.part === 'cont'"}], "mark": {"type": "text", "align": "left", "baseline": "middle", "fontSize": 14, "color": "#000000", "dx": 383}},
        {"transform": [{"filter": "datum.part === 'body'"}], "mark": {"type": "text", "align": "left", "baseline": "middle", "fontSize": 14, "color": "#000000"}}
      ]
    },
    {
      "width": 667, "height": 34,
      "data": {"values": [{"note": "敬请阅读末页的重要说明", "page": "7"}]},
      "encoding": {"x": {"datum": 0, "type": "quantitative", "scale": {"domain": [0, 1], "range": [-47, 667]}, "axis": {"orient": "top", "domain": true, "domainColor": "#a6a6a6", "ticks": false, "labels": false, "grid": false, "title": null}}},
      "layer": [
        {"mark": {"type": "text", "align": "left", "baseline": "middle", "fontSize": 12, "color": "#222222"}, "encoding": {"text": {"field": "note"}}},
        {"mark": {"type": "text", "align": "right", "baseline": "middle", "fontSize": 14, "fontWeight": "bold", "color": "#000000"}, "encoding": {"x": {"datum": 1, "type": "quantitative"}, "text": {"field": "page"}}}
      ]
    }
  ]
}
